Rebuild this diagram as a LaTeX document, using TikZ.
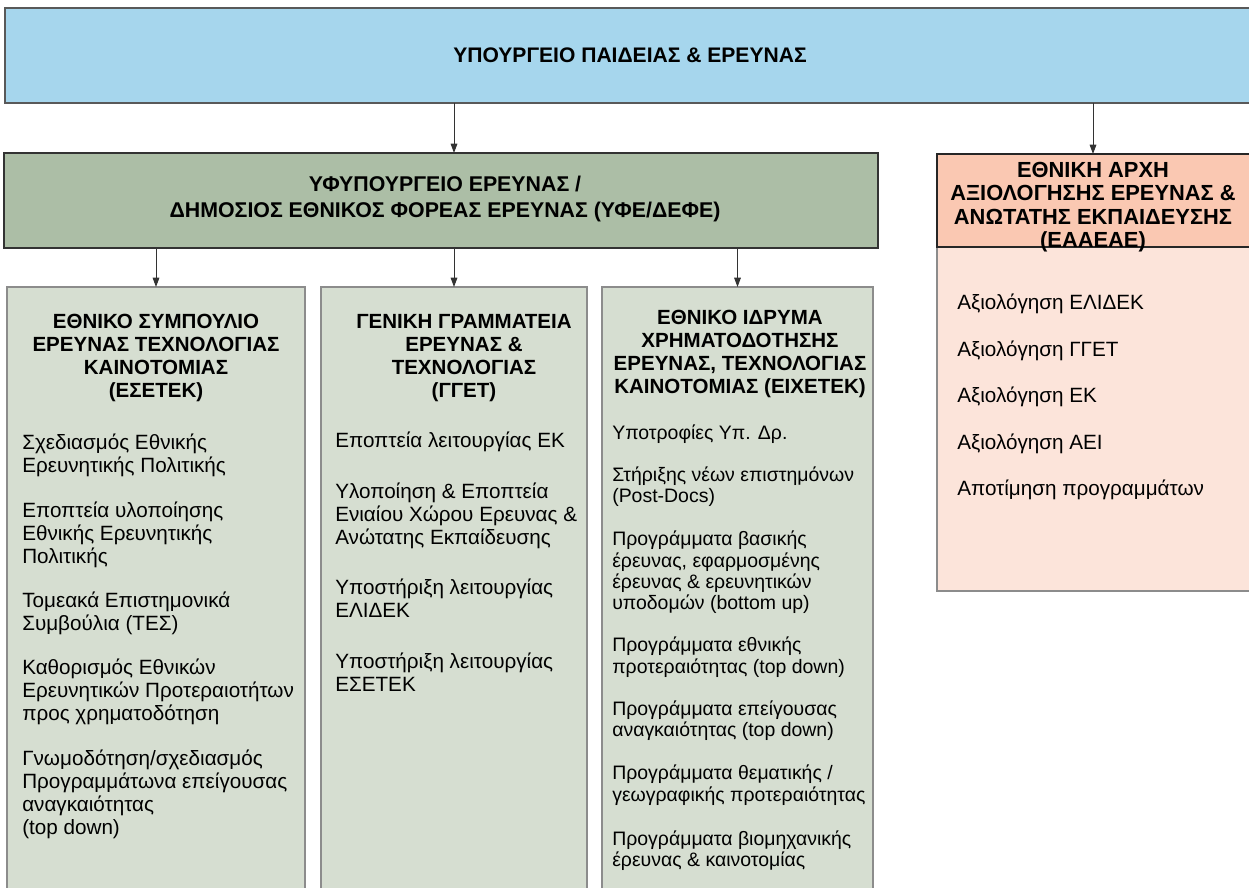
\documentclass[tikz,border=0pt]{standalone}
\usepackage{fontspec}
\setmainfont{Liberation Sans}
\usetikzlibrary{positioning,arrows.meta}

\definecolor{ministryblue}{RGB}{166,214,237}
\definecolor{deputygreen}{RGB}{172,190,166}
\definecolor{unitgreen}{RGB}{214,222,209}
\definecolor{authhead}{RGB}{250,200,178}
\definecolor{authbody}{RGB}{252,228,218}

\newcommand{\topfont}{\fontsize{15.8}{18}\selectfont\bfseries}
\newcommand{\deputyfont}{\fontsize{16}{20}\selectfont\bfseries}
\newcommand{\headfont}{\fontsize{15.4}{17.2}\selectfont\bfseries}
\newcommand{\bodyfont}{\fontsize{15.5}{17.25}\selectfont}
\newcommand{\bodysmall}{\fontsize{14.6}{16}\selectfont}

\tikzset{
  box/.style={draw,anchor=north west,inner sep=0pt,outer sep=0pt},
  unit box/.style={box,fill=unitgreen,draw=black!45,line width=0.8pt},
  head text/.style={anchor=north,align=center,inner sep=0pt,font=\headfont},
  body text/.style={anchor=north west,align=left,inner sep=0pt,font=\bodyfont},
  flow/.style={-{Triangle[length=7pt,width=5pt]},line width=0.7pt,black!80}
}

\begin{document}
\begin{tikzpicture}[x=0.75pt,y=-0.75pt]
  \useasboundingbox (0,0) rectangle (1249,888);
  \clip (0,0) rectangle (1249,888);

  % top level
  \node[box,fill=ministryblue,draw=black!65,line width=0.9pt,
        minimum width=937.5pt,minimum height=71.25pt,font=\topfont]
        (ministry) at (5,8) {ΥΠΟΥΡΓΕΙΟ ΠΑΙΔΕΙΑΣ \& ΕΡΕΥΝΑΣ};

  \node[box,fill=deputygreen,draw=black!80,line width=1.1pt,
        minimum width=655.5pt,minimum height=71.25pt] (deputy) at (4,153) {};
  \node[align=center,inner sep=0pt,font=\deputyfont] (deputytext) at (445,199)
        {ΥΦΥΠΟΥΡΓΕΙΟ ΕΡΕΥΝΑΣ /\\ΔΗΜΟΣΙΟΣ ΕΘΝΙΚΟΣ ΦΟΡΕΑΣ ΕΡΕΥΝΑΣ (ΥΦΕ/ΔΕΦΕ)};

  % evaluation authority
  \node[box,fill=authbody,draw=black!45,line width=0.8pt,
        minimum width=240pt,minimum height=258.75pt] (authbody) at (937,246) {};
  \node[box,fill=authhead,draw=black!85,line width=0.9pt,
        minimum width=240pt,minimum height=69.75pt] (auth) at (937,154) {};
  \node[align=center,inner sep=0pt,font=\fontsize{16.4}{17.5}\selectfont\bfseries]
        (authtitle) at (1093,207) {ΕΘΝΙΚΗ ΑΡΧΗ\\ΑΞΙΟΛΟΓΗΣΗΣ ΕΡΕΥΝΑΣ \&\\ΑΝΩΤΑΤΗΣ ΕΚΠΑΙΔΕΥΣΗΣ\\(ΕΑΑΕΑΕ)};
  \node[body text] (authlist) at (957,294) {Αξιολόγηση ΕΛΙΔΕΚ\\[17.6pt]
    Αξιολόγηση ΓΓΕΤ\\[17.6pt]
    Αξιολόγηση ΕΚ\\[17.6pt]
    Αξιολόγηση ΑΕΙ\\[17.6pt]
    Αποτίμηση προγραμμάτων};

  % the three units
  \node[unit box,minimum width=223.5pt,minimum height=457.5pt] (esetek) at (7,287) {};
  \node[unit box,minimum width=199.5pt,minimum height=457.5pt] (gget) at (321,287) {};
  \node[unit box,minimum width=203.25pt,minimum height=457.5pt] (eixetek) at (602,287) {};

  \node[head text] (esetekhead) at (156,314) {ΕΘΝΙΚΟ ΣΥΜΠΟΥΛΙΟ\\ΕΡΕΥΝΑΣ ΤΕΧΝΟΛΟΓΙΑΣ\\ΚΑΙΝΟΤΟΜΙΑΣ\\(ΕΣΕΤΕΚ)};
  \node[head text] (ggethead) at (464,314) {ΓΕΝΙΚΗ ΓΡΑΜΜΑΤΕΙΑ\\ΕΡΕΥΝΑΣ \&\\ΤΕΧΝΟΛΟΓΙΑΣ\\(ΓΓΕΤ)};
  \node[head text] (eixetekhead) at (740,310) {ΕΘΝΙΚΟ ΙΔΡΥΜΑ\\ΧΡΗΜΑΤΟΔΟΤΗΣΗΣ\\ΕΡΕΥΝΑΣ, ΤΕΧΝΟΛΟΓΙΑΣ\\ΚΑΙΝΟΤΟΜΙΑΣ (ΕΙΧΕΤΕΚ)};

  \node[body text] (esetektext) at (22,434) {Σχεδιασμός Εθνικής\\Ερευνητικής Πολιτικής\\[16pt]
    Εποπτεία υλοποίησης\\Εθνικής Ερευνητικής\\Πολιτικής\\[16pt]
    Τομεακά Επιστημονικά\\Συμβούλια (ΤΕΣ)\\[16pt]
    Καθορισμός Εθνικών\\Ερευνητικών Προτεραιοτήτων\\προς χρηματοδότηση\\[16pt]
    Γνωμοδότηση/σχεδιασμός\\Προγραμμάτωνα επείγουσας\\αναγκαιότητας\\(top down)};

  \node[body text] (ggettext) at (335,432) {Εποπτεία λειτουργίας ΕΚ\\[21pt]
    Υλοποίηση \& Εποπτεία\\Ενιαίου Χώρου Ερευνας \&\\Ανώτατης Εκπαίδευσης\\[20pt]
    Υποστήριξη λειτουργίας\\ΕΛΙΔΕΚ\\[21pt]
    Υποστήριξη λειτουργίας\\ΕΣΕΤΕΚ};

  \node[body text,font=\bodysmall] (eixetektext) at (612,425) {Υποτροφίες Υπ. Δρ.\\[15pt]
    Στήριξης νέων επιστημόνων\\(Post-Docs)\\[16.5pt]
    Προγράμματα βασικής\\έρευνας, εφαρμοσμένης\\έρευνας \& ερευνητικών\\υποδομών (bottom up)\\[15.5pt]
    Προγράμματα εθνικής\\προτεραιότητας (top down)\\[15.5pt]
    Προγράμματα επείγουσας\\αναγκαιότητας (top down)\\[16.5pt]
    Προγράμματα θεματικής /\\γεωγραφικής προτεραιότητας\\[17pt]
    Προγράμματα βιομηχανικής\\έρευνας \& καινοτομίας};

  % arrows
  \draw[flow] (ministry.south -| gget.north) -- (deputy.north -| gget.north);
  \draw[flow] (ministry.south -| authtitle.north) -- (auth.north -| authtitle.north);
  \draw[flow] (deputy.south -| esetek.north) -- (esetek.north);
  \draw[flow] (deputy.south -| gget.north) -- (gget.north);
  \draw[flow] (deputy.south -| eixetek.north) -- (eixetek.north);
\end{tikzpicture}
\end{document}
